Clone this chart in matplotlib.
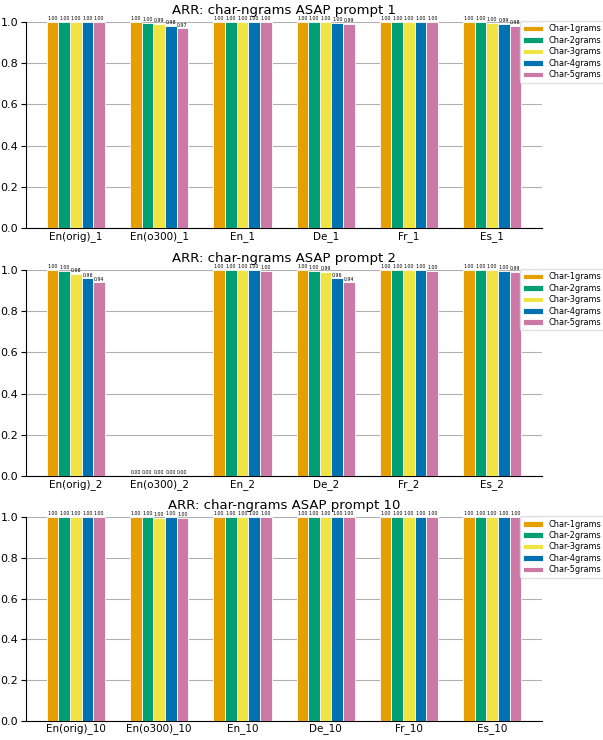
import matplotlib
matplotlib.use("Agg")
import matplotlib.pyplot as plt
import numpy as np

series = ["Char-1grams", "Char-2grams", "Char-3grams", "Char-4grams", "Char-5grams"]
colors = ["#E69F00", "#009E73", "#F0E442", "#0072B2", "#CC79A7"]
prompts = ["1", "2", "10"]
groups = ["En(orig)", "En(o300)", "En", "De", "Fr", "Es"]

# rows = groups, columns = n-gram series
arr_p1 = [[1.00, 1.00, 1.00, 1.00, 1.00],
          [1.00, 0.996, 0.99, 0.98, 0.97],
          [1.00, 1.00, 1.00, 1.00, 1.00],
          [1.00, 1.00, 1.00, 0.997, 0.99],
          [1.00, 1.00, 1.00, 1.00, 1.00],
          [1.00, 1.00, 0.997, 0.99, 0.98]]
arr_p2 = [[1.00, 0.997, 0.98, 0.96, 0.94],
          [0.00, 0.00, 0.00, 0.00, 0.00],
          [1.00, 1.00, 1.00, 1.00, 0.997],
          [1.00, 0.997, 0.99, 0.96, 0.94],
          [1.00, 1.00, 1.00, 1.00, 0.997],
          [1.00, 1.00, 1.00, 0.997, 0.99]]
arr_p10 = [[1.00, 1.00, 1.00, 1.00, 1.00],
           [1.00, 1.00, 0.998, 1.00, 0.998],
           [1.00, 1.00, 1.00, 1.00, 1.00],
           [1.00, 1.00, 1.00, 1.00, 1.00],
           [1.00, 1.00, 1.00, 1.00, 1.00],
           [1.00, 1.00, 1.00, 1.00, 1.00]]
all_vals = [arr_p1, arr_p2, arr_p10]

fig = plt.figure(figsize=(6.03, 7.4), dpi=100)
boxes = [(0.043, 0.692, 0.856, 0.278),
         (0.043, 0.357, 0.856, 0.278),
         (0.043, 0.026, 0.856, 0.275)]

width = 0.14
x = np.arange(len(groups))
for p, vals, box in zip(prompts, all_vals, boxes):
    ax = fig.add_axes(box)
    vals = np.array(vals)
    for j, s in enumerate(series):
        pos = x + (j - 2) * width
        bars = ax.bar(pos, vals[:, j], width, color=colors[j], edgecolor="white",
                      linewidth=0.6, label=s, zorder=3)
        for b, v in zip(bars, vals[:, j]):
            ax.text(b.get_x() + b.get_width() / 2, v + 0.004, "%.2f" % v,
                    ha="center", va="bottom", fontsize=3.4, clip_on=False)
    ax.set_xticks(x)
    ax.set_xticklabels([g + "_" + p for g in groups], fontsize=7.5)
    ax.set_xlim(-0.6, 5.6)
    ax.set_ylim(0, 1.0)
    ax.set_yticks([0, 0.2, 0.4, 0.6, 0.8, 1.0])
    ax.tick_params(axis="y", labelsize=8, pad=2)
    ax.tick_params(axis="x", length=0, pad=2)
    ax.yaxis.grid(True, color="#b0b0b0", linewidth=0.8, zorder=0)
    ax.spines["top"].set_visible(False)
    ax.spines["right"].set_visible(False)
    ax.set_title("ARR: char-ngrams ASAP prompt " + p, fontsize=9.5, pad=6)
    ax.legend(loc="upper left", bbox_to_anchor=(0.957, 1.005), fontsize=5.9,
              framealpha=0.9, edgecolor="#dddddd", handlelength=2.4,
              labelspacing=0.3, borderaxespad=0, handletextpad=0.7)

fig.savefig("out.png", dpi=100)
